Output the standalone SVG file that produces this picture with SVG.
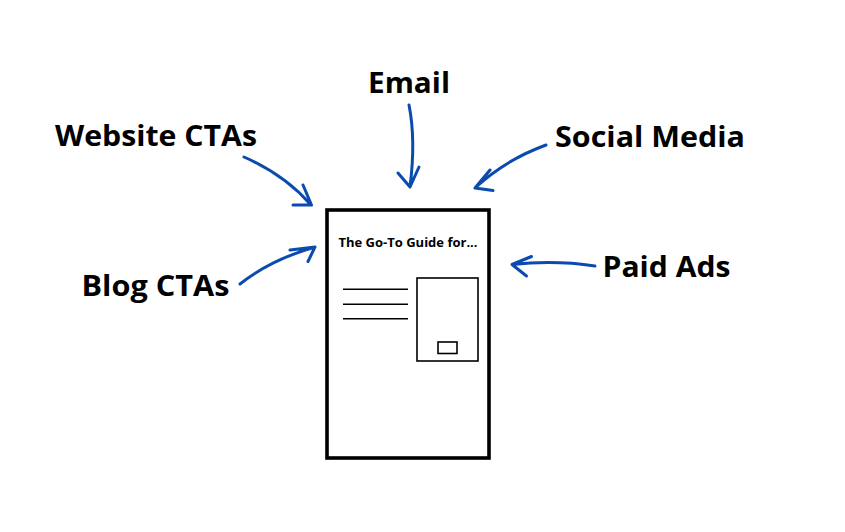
<svg xmlns="http://www.w3.org/2000/svg" width="845" height="532" viewBox="0 0 845 532">
<style>
.lbl{font-family:"Open Sans","Liberation Sans",sans-serif;font-weight:700;font-size:29px;fill:#000}
.arr{fill:none;stroke:#0b4bb0;stroke-width:3;stroke-linecap:round;stroke-linejoin:round}
.thin{fill:none;stroke:#000;stroke-width:1.6}
</style>
<rect width="845" height="532" fill="#fff"/>
<g id="guide">
<rect x="327" y="210" width="162" height="248" fill="#fff" stroke="#000" stroke-width="3.6"/>
<text x="408" y="246.5" text-anchor="middle" font-family="'Open Sans','Liberation Sans',sans-serif" font-weight="700" font-size="13" textLength="139" lengthAdjust="spacingAndGlyphs">The Go-To Guide for...</text>
<line class="thin" x1="343" y1="289.3" x2="408" y2="289.3"/>
<line class="thin" x1="343" y1="304.3" x2="408" y2="304.3"/>
<line class="thin" x1="343" y1="318.7" x2="408" y2="318.7"/>
<rect class="thin" x="417" y="278" width="61" height="83"/>
<rect class="thin" x="438" y="342" width="19" height="11.5"/>
</g>
<g id="email"><text class="lbl" x="368" y="92.5" textLength="82" lengthAdjust="spacingAndGlyphs">Email</text></g>
<g id="website-ctas"><text class="lbl" x="55" y="146" textLength="202" lengthAdjust="spacingAndGlyphs">Website CTAs</text></g>
<g id="social-media"><text class="lbl" x="555" y="146.5" textLength="190" lengthAdjust="spacingAndGlyphs">Social Media</text></g>
<g id="paid-ads"><text class="lbl" x="602.5" y="277.3" textLength="128" lengthAdjust="spacingAndGlyphs">Paid Ads</text></g>
<g id="blog-ctas"><text class="lbl" x="81.5" y="295.5" textLength="148" lengthAdjust="spacingAndGlyphs">Blog CTAs</text></g>
<g id="connectors">
<path class="arr" d="M409 105 Q416 140 410 187 M398 173 L410 187 L419 167"/>
<path class="arr" d="M244 157 Q285 175 311 205 M303 185 L311.5 205 L293 205"/>
<path class="arr" d="M240 284 Q270 260 315 247 M290 250 L315 247 L308 261.5"/>
<path class="arr" d="M546 145 Q505 160 475 188 M490 170 L475 188 L493 190.5"/>
<path class="arr" d="M595 266 Q555 260 512 264.5 M531.5 256.5 L512 264.5 L526.5 276"/>
</g>
</svg>
